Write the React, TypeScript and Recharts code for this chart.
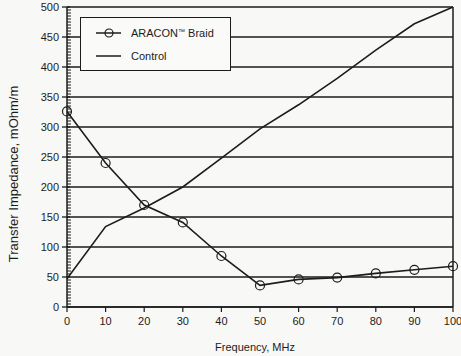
import { LineChart, Line, XAxis, YAxis, CartesianGrid, ReferenceLine, Label } from 'recharts';

const frequencies = [0, 10, 20, 30, 40, 50, 60, 70, 80, 90, 100];
const braidImpedance = [326, 240, 170, 141, 85, 36, 46, 49, 56, 62, 68];
const controlImpedance = [47, 134, 165, 200, 248, 297, 337, 381, 428, 472, 500];

const xTicks = [0, 10, 20, 30, 40, 50, 60, 70, 80, 90, 100];
const yMajorTicks = [0, 50, 100, 150, 200, 250, 300, 350, 400, 450, 500];
// minor ticks every 5 units along the y axis
const yAllTicks = Array.from({ length: 101 }, (_, i) => i * 5);

const seriesNames = ['ARACON™ Braid', 'Control'];

const data = frequencies.map((f, i) => ({
  freq: f,
  braid: braidImpedance[i],
  control: controlImpedance[i],
}));

const INK = '#1c1c1c';
const FONT = "'Liberation Sans', Arial, sans-serif";

function YTick(props: any) {
  const { x, y, payload } = props;
  const major = yMajorTicks.includes(payload.value);
  if (!major) {
    return <line x1={x} x2={x + 4} y1={y} y2={y} stroke={INK} strokeWidth={1} />;
  }
  return (
    <g>
      <line x1={x - 5} x2={x + 3} y1={y} y2={y} stroke={INK} strokeWidth={1.3} />
      <text x={x - 8} y={y} dy="0.36em" textAnchor="end" fontSize={11} fill={INK} fontFamily={FONT}>
        {payload.value}
      </text>
    </g>
  );
}

function Legend() {
  const row = { display: 'flex', alignItems: 'center', height: 23, whiteSpace: 'nowrap' } as const;
  const [brand, rest] = seriesNames[0].split('™');
  return (
    <div
      style={{
        position: 'absolute',
        left: 80,
        top: 17,
        width: 151,
        height: 54,
        border: `1.5px solid ${INK}`,
        background: '#fafaf8',
        fontFamily: FONT,
        fontSize: 11,
        color: INK,
        paddingTop: 3,
        boxSizing: 'border-box',
      }}
    >
      <div style={row}>
        <svg width={35} height={12} style={{ marginLeft: 15 }}>
          <line x1={0} x2={25} y1={6} y2={6} stroke={INK} strokeWidth={1.5} />
          <circle cx={13} cy={6} r={4} fill="none" stroke={INK} strokeWidth={1.2} />
        </svg>
        <span>
          {brand}
          <span style={{ fontSize: 7, verticalAlign: 3 }}>™</span>
          {rest}
        </span>
      </div>
      <div style={row}>
        <svg width={35} height={12} style={{ marginLeft: 15 }}>
          <line x1={0} x2={25} y1={6} y2={6} stroke={INK} strokeWidth={1.5} />
        </svg>
        <span>{seriesNames[1]}</span>
      </div>
    </div>
  );
}

export default function App() {
  return (
    <div style={{ position: 'absolute', left: 0, top: 0, width: 461, height: 356, background: '#f8f8f6' }}>
      <LineChart width={461} height={356} data={data} margin={{ top: 7, right: 8, bottom: 0, left: 0 }}>
        <CartesianGrid horizontalValues={yMajorTicks} vertical={false} stroke={INK} strokeWidth={1.5} />
        <ReferenceLine x={100} stroke={INK} strokeWidth={1.5} />
        <XAxis
          dataKey="freq"
          type="number"
          domain={[0, 100]}
          ticks={xTicks}
          interval={0}
          height={49}
          tickSize={5}
          tickMargin={5}
          axisLine={{ stroke: INK, strokeWidth: 1.5 }}
          tickLine={{ stroke: INK, strokeWidth: 1.2 }}
          tick={{ fontSize: 11, fill: INK, fontFamily: FONT }}
        >
          <Label
            content={({ viewBox }: any) => (
              <text
                x={viewBox.x + viewBox.width / 2 - 5}
                y={viewBox.y + viewBox.height - 5}
                textAnchor="middle"
                fontSize={11}
                fill={INK}
                fontFamily={FONT}
              >
                Frequency, MHz
              </text>
            )}
          />
        </XAxis>
        <YAxis
          type="number"
          domain={[0, 500]}
          ticks={yAllTicks}
          interval={0}
          width={67}
          tickSize={0}
          tickMargin={0}
          tickLine={false}
          axisLine={{ stroke: INK, strokeWidth: 1.5 }}
          tick={<YTick />}
        >
          <Label
            content={({ viewBox }: any) => {
              const cx = 13;
              const cy = viewBox.y + viewBox.height / 2 + 17;
              return (
                <text
                  x={cx}
                  y={cy}
                  transform={`rotate(-90 ${cx} ${cy})`}
                  textAnchor="middle"
                  dy="0.36em"
                  fontSize={13}
                  fill={INK}
                  fontFamily={FONT}
                >
                  Transfer Impedance, mOhm/m
                </text>
              );
            }}
          />
        </YAxis>
        <Line
          dataKey="control"
          name={seriesNames[1]}
          stroke={INK}
          strokeWidth={1.6}
          dot={false}
          isAnimationActive={false}
        />
        <Line
          dataKey="braid"
          name={seriesNames[0]}
          stroke={INK}
          strokeWidth={1.6}
          dot={{ r: 4.5, stroke: INK, strokeWidth: 1.2, fill: 'none' }}
          isAnimationActive={false}
        />
      </LineChart>
      <Legend />
    </div>
  );
}
